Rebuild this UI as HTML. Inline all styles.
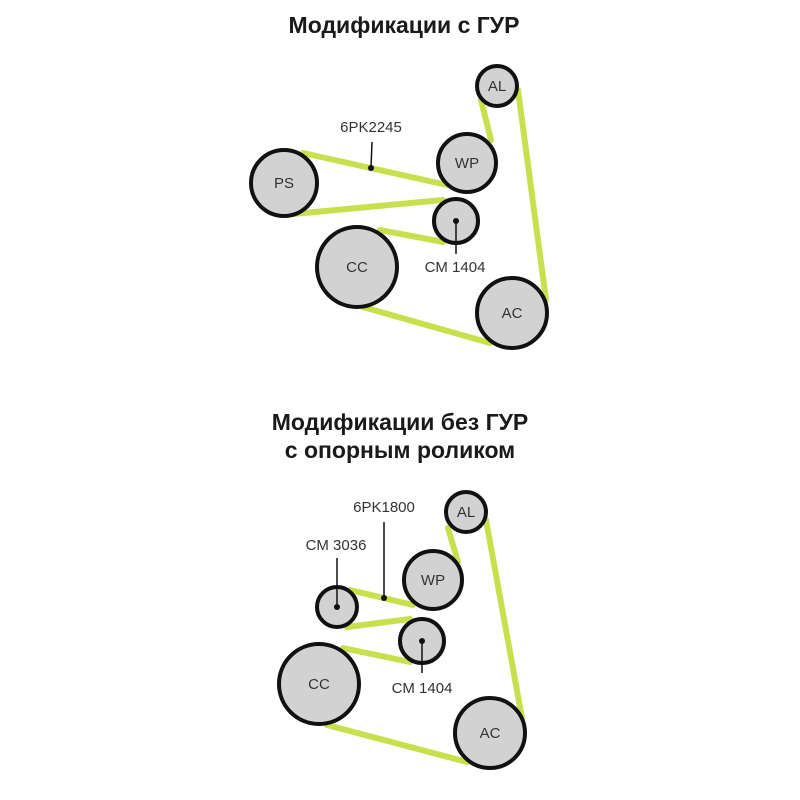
<!DOCTYPE html>
<html><head><meta charset="utf-8"><style>
body{margin:0;background:#fff;width:800px;height:800px;overflow:hidden}
svg{display:block}
.t{font-family:"Liberation Sans","DejaVu Sans",sans-serif;font-weight:bold;font-size:23px;fill:#1a1a1a;text-anchor:middle}
.l{font-family:"Liberation Sans","DejaVu Sans",sans-serif;font-size:15px;fill:#333;text-anchor:middle}
.b{stroke:#c9e04e;stroke-width:6;stroke-linecap:round}
.c{fill:#d2d2d2;stroke:#111;stroke-width:4}
</style></head><body>
<svg width="800" height="800" viewBox="0 0 800 800">
<text class="t" x="404" y="33">Модификации с ГУР</text>
<g class="b">
<line x1="303" y1="153" x2="447" y2="185"/>
<line x1="293" y1="214" x2="443" y2="200"/>
<line x1="380" y1="230" x2="443" y2="242"/>
<line x1="363" y1="307" x2="490" y2="343"/>
<line x1="546" y1="300" x2="518" y2="90"/>
<line x1="481" y1="100" x2="491" y2="140"/>
</g>
<circle class="c" cx="497" cy="86" r="20"/>
<circle class="c" cx="467" cy="163" r="29"/>
<circle class="c" cx="284" cy="183" r="33"/>
<circle class="c" cx="456" cy="221" r="22"/>
<circle class="c" cx="357" cy="267" r="40"/>
<circle class="c" cx="512" cy="313" r="35"/>
<text class="l" x="497" y="91">AL</text>
<text class="l" x="467" y="168">WP</text>
<text class="l" x="284" y="188">PS</text>
<text class="l" x="357" y="272">CC</text>
<text class="l" x="512" y="318">AC</text>
<text class="l" x="371" y="132">6PK2245</text>
<line x1="372" y1="142" x2="371" y2="168" stroke="#111" stroke-width="1.5"/>
<circle cx="371" cy="168" r="3" fill="#111"/>
<circle cx="456" cy="221" r="3" fill="#111"/>
<line x1="456" y1="221" x2="456" y2="254" stroke="#111" stroke-width="1.5"/>
<text class="l" x="455" y="272">CM 1404</text>

<text class="t" x="400" y="430">Модификации без ГУР</text>
<text class="t" x="400" y="458">с опорным роликом</text>
<g class="b">
<line x1="350" y1="590" x2="413" y2="605"/>
<line x1="347" y1="627" x2="410" y2="619"/>
<line x1="343" y1="648" x2="410" y2="662"/>
<line x1="327" y1="725" x2="467" y2="762"/>
<line x1="522" y1="718" x2="486" y2="520"/>
<line x1="448" y1="528" x2="458" y2="562"/>
</g>
<circle class="c" cx="466" cy="512" r="20"/>
<circle class="c" cx="433" cy="580" r="29"/>
<circle class="c" cx="337" cy="607" r="20"/>
<circle class="c" cx="422" cy="641" r="22"/>
<circle class="c" cx="319" cy="684" r="40"/>
<circle class="c" cx="490" cy="733" r="35"/>
<text class="l" x="466" y="517">AL</text>
<text class="l" x="433" y="585">WP</text>
<text class="l" x="319" y="689">CC</text>
<text class="l" x="490" y="738">AC</text>
<text class="l" x="384" y="512">6PK1800</text>
<line x1="384" y1="522" x2="384" y2="598" stroke="#111" stroke-width="1.5"/>
<circle cx="384" cy="598" r="3" fill="#111"/>
<text class="l" x="336" y="550">CM 3036</text>
<line x1="337" y1="558" x2="337" y2="607" stroke="#111" stroke-width="1.5"/>
<circle cx="337" cy="607" r="3" fill="#111"/>
<circle cx="422" cy="641" r="3" fill="#111"/>
<line x1="422" y1="641" x2="422" y2="673" stroke="#111" stroke-width="1.5"/>
<text class="l" x="422" y="693">CM 1404</text>
</svg>
</body></html>
